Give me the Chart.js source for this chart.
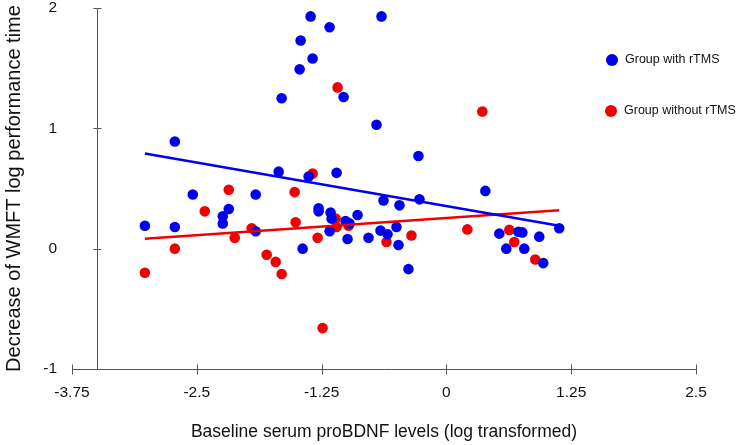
<!DOCTYPE html>
<html>
<head>
<meta charset="utf-8">
<script src="https://cdn.jsdelivr.net/npm/chart.js@4.4.1/dist/chart.umd.min.js"></script>
<style>
  html, body { margin: 0; padding: 0; background: #fff; }
  .chart-div { position: relative; width: 748px; height: 445px; }
</style>
</head>
<body>
<div class="chart-div"><canvas id="myChart"></canvas></div>
<script>
// axis ticks
const xTicks = [-3.75, -2.5, -1.25, 0, 1.25, 2.5];
const yTicks = [-1, 0, 1, 2];
const yAxisAtX = -3.5;

// group with rTMS (blue)
const withX = [-1.36, -1.17, -0.65, -1.46, -1.34, -1.47, -1.65, -1.03, -0.70, 0.39,
  0.53, 0.72, 0.76, 0.60, 0.78, 0.93, 0.97, 1.13, -2.72, -1.68,
  -2.54, -1.91, -2.18, -2.24, -2.24, -3.02, -2.72, -1.91, -0.28, -1.38,
  -1.10, -0.63, -0.47, -0.27, -1.28, -1.28, -1.16, -1.15, -1.01, -0.97,
  -0.89, -1.17, -0.99, -0.78, -0.66, -0.59, -0.50, -0.48, -1.44, -0.38];
const withY = [1.93, 1.84, 1.93, 1.73, 1.58, 1.49, 1.25, 1.26, 1.03, 0.48,
  0.125, 0.14, 0.135, 0.0, 0.0, 0.10, -0.12, 0.17, 0.89, 0.64,
  0.45, 0.45, 0.33, 0.27, 0.21, 0.19, 0.18, 0.145, 0.77, 0.60,
  0.63, 0.40, 0.36, 0.41, 0.335, 0.31, 0.30, 0.25, 0.23, 0.21,
  0.28, 0.145, 0.08, 0.09, 0.15, 0.12, 0.18, 0.03, 0.0, -0.17];

// group without rTMS (red)
const withoutX = [-1.09, 0.36, 0.21, 0.63, 0.68, 0.89, -2.18, -2.42, -1.95, -2.12,
  -2.72, -3.02, -1.80, -1.71, -1.65, -1.34, -1.52, -1.11, -1.10, -0.98,
  -1.51, -1.29, -0.60, -0.35, -1.24];
const withoutY = [1.34, 1.14, 0.16, 0.156, 0.055, -0.09, 0.49, 0.31, 0.17, 0.09,
  0.0, -0.2, -0.05, -0.11, -0.21, 0.625, 0.47, 0.25, 0.18, 0.19,
  0.22, 0.09, 0.055, 0.11, -0.66];

// fitted lines
const fitX = [-3.02, 1.13];
const withFitY = [0.79, 0.19];
const withoutFitY = [0.083, 0.32];

const legendLabels = ["Group with rTMS", "Group without rTMS"];
const blue = "#0000f0";
const red = "#f00000";
const font = "'Liberation Sans', Arial, sans-serif";

const toPoints = (xs, ys) => xs.map((x, i) => ({ x: x, y: ys[i] }));

const axisPlugin = {
  id: "axisLines",
  afterDraw(chart) {
    const { ctx, scales: { x, y } } = chart;
    const x0 = Math.round(x.getPixelForValue(yAxisAtX)) + 0.5;
    const yb = Math.round(y.getPixelForValue(-1)) + 0.5;
    ctx.save();
    ctx.strokeStyle = "#555";
    ctx.lineWidth = 1;
    ctx.beginPath();
    ctx.moveTo(x0, y.getPixelForValue(2));
    ctx.lineTo(x0, yb);
    yTicks.forEach((v) => {
      const py = Math.round(y.getPixelForValue(v)) + 0.5;
      ctx.moveTo(x0 - 4, py);
      ctx.lineTo(x0 + 4, py);
    });
    xTicks.forEach((v) => {
      const px = Math.round(x.getPixelForValue(v)) + 0.5;
      ctx.moveTo(px, yb - 5);
      ctx.lineTo(px, yb + 5);
    });
    ctx.stroke();

    // legend
    const items = [
      { color: blue, cx: 612, cy: 60 },
      { color: red, cx: 611, cy: 111 },
    ];
    ctx.font = "12.5px " + font;
    ctx.textBaseline = "middle";
    ctx.textAlign = "left";
    items.forEach((it, i) => {
      ctx.fillStyle = it.color;
      ctx.beginPath();
      ctx.arc(it.cx, it.cy, 6, 0, Math.PI * 2);
      ctx.fill();
      ctx.fillStyle = "#111";
      ctx.fillText(legendLabels[i], it.cx + 13, it.cy);
    });
    ctx.restore();
  },
};

const ctx = document.getElementById("myChart");

new Chart(ctx, {
  type: "scatter",
  data: {
    datasets: [
      {
        type: "line",
        label: "with fit",
        data: toPoints(fitX, withFitY),
        borderColor: blue,
        borderWidth: 2.5,
        pointRadius: 0,
        order: 0,
      },
      {
        type: "line",
        label: "without fit",
        data: toPoints(fitX, withoutFitY),
        borderColor: red,
        borderWidth: 2.5,
        pointRadius: 0,
        order: 0,
      },
      {
        label: legendLabels[0],
        data: toPoints(withX, withY),
        backgroundColor: blue,
        borderWidth: 0,
        pointRadius: 5.3,
        order: 1,
      },
      {
        label: legendLabels[1],
        data: toPoints(withoutX, withoutY),
        backgroundColor: red,
        borderWidth: 0,
        pointRadius: 5.3,
        order: 2,
      },
    ],
  },
  options: {
    responsive: true,
    maintainAspectRatio: false,
    animation: false,
    layout: { padding: { top: 8, right: 52, left: 0, bottom: 0 } },
    plugins: { legend: { display: false }, tooltip: { enabled: false } },
    scales: {
      x: {
        type: "linear",
        min: -3.75,
        max: 2.5,
        afterBuildTicks: (s) => { s.ticks = xTicks.map((v) => ({ value: v })); },
        afterFit: (s) => { s.height = 76; },
        grid: { display: false, drawTicks: false },
        border: { display: true, color: "#555", width: 1 },
        ticks: {
          padding: 14,
          color: "#111",
          font: { family: font, size: 15.5 },
          callback: (v) => String(v),
        },
        title: {
          display: true,
          text: "Baseline serum proBDNF levels (log transformed)",
          color: "#111",
          font: { family: font, size: 17.5 },
          padding: { top: 0, bottom: 2 },
        },
      },
      y: {
        type: "linear",
        min: -1,
        max: 2,
        afterBuildTicks: (s) => { s.ticks = yTicks.map((v) => ({ value: v })); },
        afterFit: (s) => {
          s.width = 72;
          s.paddingTop = 0;
          s.paddingBottom = 0;
        },
        grid: { display: false, drawTicks: false },
        border: { display: false },
        ticks: {
          padding: 15,
          color: "#111",
          font: { family: font, size: 15.5, lineHeight: 1 },
          callback: (v) => String(v),
        },
        title: {
          display: true,
          text: "Decrease of WMFT log performance time",
          color: "#111",
          font: { family: font, size: 20 },
          padding: { top: 2, bottom: 0 },
        },
      },
    },
  },
  plugins: [axisPlugin],
});
</script>
</body>
</html>
